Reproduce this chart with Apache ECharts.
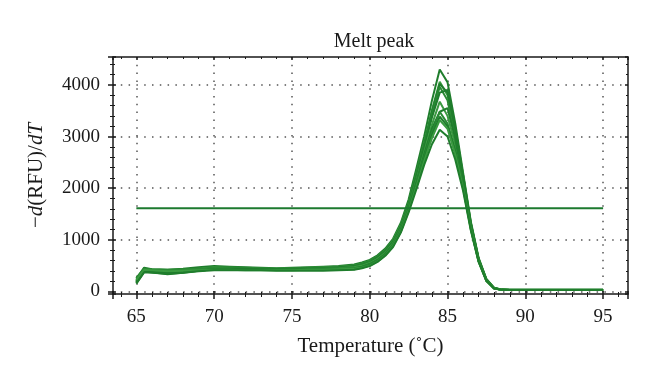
<!DOCTYPE html>
<html><head><meta charset="utf-8">
<script src="https://cdn.jsdelivr.net/npm/echarts@6/dist/echarts.min.js"></script>
<style>html,body{margin:0;padding:0;background:#fff}#c{width:660px;height:390px}</style>
</head><body><div id="c"></div>
<script>
// Temperature (°C) sample points
const temps = [65, 65.5, 66, 67, 68, 69, 70, 71, 72, 73, 74, 75, 76, 77, 78, 79, 79.5, 80, 80.5, 81, 81.5, 82, 82.5, 83, 83.5, 84, 84.5, 85, 85.5, 86, 86.5, 87, 87.5, 88, 88.5, 89, 95];

// -d(RFU)/dT per well
const wellA = [250, 460, 430, 420, 440, 470, 490, 480, 470, 460, 450, 460, 470, 480, 490, 520, 560, 610, 700, 830, 1020, 1330, 1780, 2380, 3000, 3700, 4300, 4050, 3250, 2300, 1350, 650, 240, 70, 35, 30, 30];
const wellB = [200, 420, 400, 390, 410, 440, 470, 460, 450, 440, 440, 450, 460, 470, 480, 500, 540, 590, 680, 800, 990, 1290, 1720, 2290, 2880, 3520, 4060, 3800, 3100, 2250, 1320, 630, 230, 65, 32, 30, 30];
const wellC = [180, 440, 410, 360, 380, 420, 450, 450, 440, 430, 430, 440, 450, 460, 470, 490, 530, 580, 670, 790, 970, 1270, 1700, 2260, 2850, 3480, 4020, 3850, 3050, 2200, 1300, 620, 220, 60, 30, 28, 28];
const wellD = [230, 400, 390, 380, 400, 430, 460, 470, 460, 450, 440, 440, 445, 450, 460, 480, 520, 575, 660, 780, 960, 1250, 1680, 2230, 2820, 3420, 3965, 3700, 3000, 2180, 1290, 610, 220, 60, 30, 28, 28];
const wellE = [160, 380, 370, 330, 360, 400, 430, 430, 430, 430, 430, 440, 440, 450, 460, 470, 510, 560, 650, 770, 950, 1240, 1660, 2200, 2780, 3370, 3850, 3900, 3150, 2250, 1320, 630, 230, 65, 32, 30, 30];
const wellF = [210, 430, 420, 400, 400, 420, 440, 440, 430, 420, 420, 430, 440, 440, 450, 470, 500, 550, 630, 750, 930, 1220, 1640, 2150, 2700, 3230, 3675, 3400, 2850, 2100, 1250, 600, 215, 60, 30, 28, 28];
const wellG = [170, 390, 380, 370, 390, 410, 420, 420, 420, 420, 430, 430, 440, 440, 440, 450, 480, 530, 610, 730, 910, 1200, 1620, 2120, 2650, 3150, 3480, 3550, 2950, 2150, 1270, 610, 220, 60, 30, 28, 28];
const wellH = [260, 440, 430, 420, 430, 440, 450, 440, 430, 430, 420, 420, 430, 430, 430, 440, 470, 520, 600, 720, 900, 1190, 1600, 2090, 2600, 3080, 3480, 3250, 2750, 2050, 1230, 590, 210, 58, 30, 28, 28];
const wellI = [190, 410, 390, 350, 370, 400, 430, 440, 440, 430, 420, 420, 420, 420, 420, 430, 460, 510, 590, 710, 890, 1170, 1580, 2060, 2560, 3020, 3385, 3200, 2700, 2020, 1210, 580, 205, 56, 30, 28, 28];
const wellJ = [220, 420, 410, 390, 400, 410, 420, 420, 410, 410, 410, 410, 420, 420, 430, 440, 460, 500, 580, 700, 880, 1160, 1560, 2030, 2520, 2970, 3320, 3150, 2650, 2000, 1200, 575, 200, 55, 30, 28, 28];
const wellK = [150, 370, 360, 340, 360, 390, 410, 410, 410, 410, 400, 400, 400, 400, 410, 420, 450, 490, 570, 690, 860, 1140, 1530, 1980, 2450, 2850, 3130, 3000, 2550, 1950, 1180, 570, 200, 55, 30, 28, 28];

const thresholdValue = 1613;
const thresholdRange = [65, 95];

const titleText = 'Melt peak';
const xName = 'Temperature (˚C)';

const wells = [wellA, wellB, wellC, wellD, wellE, wellF, wellG, wellH, wellI, wellJ, wellK];
const lineColors = ['#1f7d2c', '#3a9a40', '#1f7d2c', '#2a8a34', '#1f7d2c', '#3a9a40', '#1f7d2c', '#2a8a34', '#1f7d2c', '#3a9a40', '#1f7d2c'];

const font = '"Liberation Serif", "DejaVu Serif", serif';
const ink = '#1a1a1a';
const X_MIN = 63.5, X_MAX = 96.6, Y_MIN = -50, Y_MAX = 4540;

const series = wells.map((w, k) => ({
  type: 'line', xAxisIndex: 0, yAxisIndex: 0, symbol: 'none', silent: true,
  lineStyle: { color: lineColors[k], width: 2 },
  data: temps.map((t, i) => [t, w[i]])
}));
series.push({
  type: 'line', xAxisIndex: 0, yAxisIndex: 0, symbol: 'none', silent: true,
  lineStyle: { color: '#1d7a2f', width: 2 },
  data: thresholdRange.map(t => [t, thresholdValue])
});

function xAx(pos, main, inside) {
  return {
    type: 'value', position: pos, min: X_MIN, max: X_MAX, splitNumber: 6,
    axisLine: { show: main, onZero: false, lineStyle: { color: ink, width: 1.5 } },
    axisTick: { show: true, inside: inside, length: inside ? 3 : 5, lineStyle: { color: ink, width: 1.5 } },
    minorTick: { show: true, splitNumber: 5, length: inside ? 2 : 3, lineStyle: { color: ink, width: 1 } },
    axisLabel: { show: pos === 'bottom' && !inside, showMinLabel: false, showMaxLabel: false, fontFamily: font, fontSize: 19, color: ink, margin: 14,
      formatter: v => String(v) },
    splitLine: { show: pos === 'bottom' && !inside, showMinLine: false, showMaxLine: false, lineStyle: { color: '#555', width: 1.5, type: [1.5, 6.3] } },
    name: (pos === 'bottom' && !inside) ? xName : '', nameLocation: 'middle', nameGap: 42,
    nameTextStyle: { fontFamily: font, fontSize: 21, color: ink }
  };
}
function yAx(pos, main, inside) {
  return {
    type: 'value', position: pos, min: Y_MIN, max: Y_MAX, splitNumber: 5,
    axisLine: { show: main, onZero: false, lineStyle: { color: ink, width: 1.5 } },
    axisTick: { show: true, inside: inside, length: inside ? 3 : 5, lineStyle: { color: ink, width: 1.5 } },
    minorTick: { show: true, splitNumber: 5, length: inside ? 2 : 3, lineStyle: { color: ink, width: 1 } },
    axisLabel: { show: pos === 'left' && !inside, showMinLabel: false, showMaxLabel: false, fontFamily: font, fontSize: 19, color: ink, margin: 13,
      formatter: v => String(v) },
    splitLine: { show: pos === 'left' && !inside, showMinLine: false, showMaxLine: false, lineStyle: { color: '#555', width: 1.5, type: [1.5, 6.3] } },
    name: (pos === 'left' && !inside) ? '{n|−}{i|d}{n|(RFU)/}{i|dT}' : '', nameLocation: 'middle', nameGap: 66, nameRotate: 90,
    nameTextStyle: { fontFamily: font, fontSize: 21, color: ink,
      rich: { n: { fontFamily: font, fontSize: 21, color: ink }, i: { fontFamily: font, fontSize: 21, fontStyle: 'italic', color: ink } } }
  };
}

const chart = echarts.init(document.getElementById('c'), null, { renderer: 'canvas' });
chart.setOption({
  animation: false,
  backgroundColor: '#fff',
  title: { text: titleText, left: 369, textAlign: 'center', top: 27, textStyle: { fontFamily: font, fontSize: 20, fontWeight: 'normal', color: ink } },
  grid: { left: 113, right: 32, top: 57, bottom: 96, containLabel: false, outerBoundsMode: 'none' },
  xAxis: [xAx('bottom', true, false), xAx('bottom', false, true), xAx('top', true, true)],
  yAxis: [yAx('left', true, false), yAx('left', false, true), yAx('right', true, true)],
  series: series
});
</script></body></html>
